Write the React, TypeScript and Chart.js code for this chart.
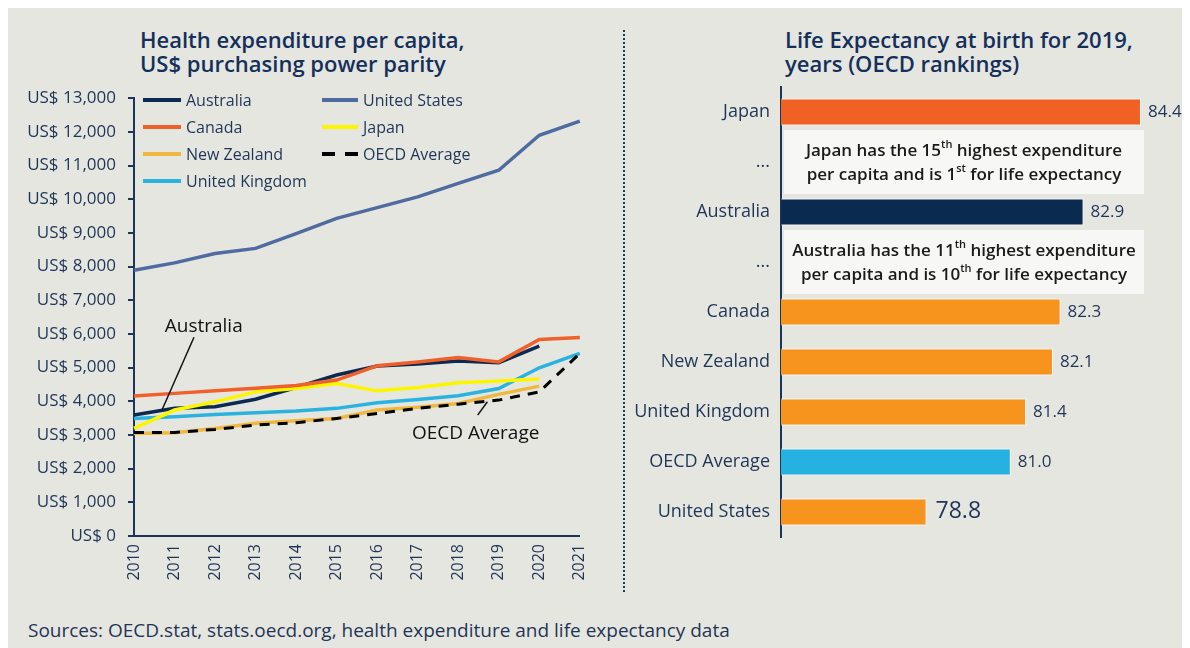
import React, { useEffect, useRef } from "react";
import { Chart, registerables } from "chart.js";
Chart.register(...registerables);

const FONT = "'Open Sans', 'Noto Sans', sans-serif";
const TEXT = "#1f3556";
const BG = "#e6e6e1";

// ---------- Left chart data ----------
const years = ["2010", "2011", "2012", "2013", "2014", "2015", "2016", "2017", "2018", "2019", "2020", "2021"];
const australia = [3590, 3790, 3840, 4060, 4410, 4780, 5045, 5105, 5195, 5145, 5640, null];
const unitedStates = [7890, 8110, 8390, 8540, 8980, 9430, 9750, 10070, 10470, 10860, 11900, 12320];
const canada = [4155, 4235, 4310, 4385, 4470, 4630, 5055, 5170, 5300, 5170, 5835, 5895];
const japan = [3195, 3740, 3985, 4280, 4380, 4530, 4310, 4410, 4550, 4600, 4660, null];
const newZealand = [3045, 3065, 3195, 3345, 3420, 3490, 3740, 3820, 3935, 4205, 4450, null];
const unitedKingdom = [3490, 3540, 3610, 3660, 3710, 3790, 3955, 4055, 4165, 4380, 4995, 5420];
const oecdAverage = [3075, 3075, 3165, 3295, 3365, 3490, 3640, 3790, 3915, 4035, 4280, 5420];

const series = [
  { label: "Australia", data: australia, color: "#0c2a50", dash: [] as number[], order: 3 },
  { label: "United States", data: unitedStates, color: "#4f6b9f", dash: [] as number[], order: 6 },
  { label: "Canada", data: canada, color: "#f0602b", dash: [] as number[], order: 1 },
  { label: "Japan", data: japan, color: "#fbf600", dash: [] as number[], order: 2 },
  { label: "New Zealand", data: newZealand, color: "#efb83e", dash: [] as number[], order: 5 },
  { label: "OECD Average", data: oecdAverage, color: "#000000", dash: [10, 8], order: 0 },
  { label: "United Kingdom", data: unitedKingdom, color: "#2bb3e0", dash: [] as number[], order: 4 },
];

// annotation callouts in data units (x = category index, y = US$)
const lineNotes = [
  { text: "Australia", tx: 1.72, ty: 6220, from: [1.48, 5900], to: [0.69, 3740] },
  { text: "OECD Average", tx: 8.43, ty: 3030, from: [8.48, 3590], to: [8.72, 3985] },
];

// ---------- Right chart data ----------
const leCategories = ["Japan", "...", "Australia", "...", "Canada", "New Zealand", "United Kingdom", "OECD Average", "United States"];
const leValues = [84.4, null, 82.9, null, 82.3, 82.1, 81.4, 81.0, 78.8];
const leRanks = ["(1)", "", "(10)", "", "(14)", "(17)", "(24)", "", "(31)"];
const leColors = ["#f26124", "#000000", "#0b2a4f", "#000000", "#f7941e", "#f7941e", "#f7941e", "#25b2e0", "#f7941e"];
const leRankColors = ["#ffffff", "", "#ffffff", "", "#3a3328", "#3a3328", "#3a3328", "", "#3a3328"];

type Seg = { t: string; sup?: boolean };
const calloutJapan: Seg[][] = [
  [{ t: "Japan has the 15" }, { t: "th", sup: true }, { t: " highest expenditure" }],
  [{ t: "per capita and is 1" }, { t: "st", sup: true }, { t: " for life expectancy" }],
];
const calloutAustralia: Seg[][] = [
  [{ t: "Australia has the 11" }, { t: "th", sup: true }, { t: " highest expenditure" }],
  [{ t: "per capita and is 10" }, { t: "th", sup: true }, { t: " for life expectancy" }],
];
const callouts = [
  { index: 1, lines: calloutJapan },
  { index: 3, lines: calloutAustralia },
];

const notesPlugin = {
  id: "notes",
  afterDatasetsDraw(chart: any) {
    const { ctx, scales } = chart;
    const x = scales.x, y = scales.y;
    ctx.save();
    ctx.font = `19px ${FONT}`;
    ctx.fillStyle = "#111111";
    ctx.strokeStyle = "#111111";
    ctx.lineWidth = 1.5;
    ctx.textAlign = "center";
    ctx.textBaseline = "middle";
    for (const n of lineNotes) {
      ctx.fillText(n.text, x.getPixelForValue(n.tx), y.getPixelForValue(n.ty));
      ctx.beginPath();
      ctx.moveTo(x.getPixelForValue(n.from[0]), y.getPixelForValue(n.from[1]));
      ctx.lineTo(x.getPixelForValue(n.to[0]), y.getPixelForValue(n.to[1]));
      ctx.stroke();
    }
    ctx.restore();
  },
};

const barLabelsPlugin = {
  id: "barLabels",
  afterDatasetsDraw(chart: any) {
    const { ctx, chartArea } = chart;
    const meta = chart.getDatasetMeta(0);
    const yScale = chart.scales.y;
    ctx.save();
    ctx.textBaseline = "middle";
    meta.data.forEach((bar: any, i: number) => {
      const v = leValues[i];
      if (v == null) return;
      if (leRanks[i]) {
        ctx.font = `17px ${FONT}`;
        ctx.fillStyle = leRankColors[i];
        ctx.textAlign = "center";
        ctx.fillText(leRanks[i], (bar.base + bar.x) / 2, bar.y);
      }
      const big = i === leValues.length - 1;
      ctx.font = big ? `23px ${FONT}` : `17px ${FONT}`;
      ctx.fillStyle = TEXT;
      ctx.textAlign = "left";
      ctx.fillText(v.toFixed(1), bar.x + (big ? 9 : 7), bar.y + (big ? -1 : 0));
    });
    // callout boxes
    for (const c of callouts) {
      const cy = yScale.getPixelForValue(c.index);
      const left = chartArea.left + 3;
      const w = 360;
      const h = 64;
      ctx.fillStyle = "#f7f7f5";
      ctx.fillRect(left, cy - h / 2, w, h);
      const cx = left + w / 2;
      c.lines.forEach((line, li) => {
        const ly = cy - 11 + li * 24;
        const mainFont = `600 17px ${FONT}`;
        const supFont = `600 11px ${FONT}`;
        let total = 0;
        for (const s of line) {
          ctx.font = s.sup ? supFont : mainFont;
          total += ctx.measureText(s.t).width;
        }
        let px = cx - total / 2;
        ctx.textAlign = "left";
        ctx.fillStyle = "#1a1a1a";
        for (const s of line) {
          ctx.font = s.sup ? supFont : mainFont;
          ctx.fillText(s.t, px, s.sup ? ly - 6 : ly);
          px += ctx.measureText(s.t).width;
        }
      });
    }
    ctx.restore();
  },
};

function LineChart() {
  const ref = useRef<HTMLCanvasElement>(null);
  useEffect(() => {
    const chart = new Chart(ref.current!, {
      type: "line",
      data: {
        labels: years,
        datasets: series.map((s) => ({
          label: s.label,
          data: s.data,
          borderColor: s.color,
          backgroundColor: s.color,
          borderDash: s.dash,
          borderWidth: s.label === "OECD Average" ? 3 : 3.5,
          pointRadius: 0,
          tension: 0,
          fill: false,
          order: s.order,
        })),
      },
      options: {
        responsive: false,
        animation: false,
        devicePixelRatio: 1,
        layout: { padding: { top: 22, right: 0, left: 0, bottom: 0 } },
        plugins: { legend: { display: false }, tooltip: { enabled: false } },
        scales: {
          x: {
            type: "category",
            offset: false,
            grid: { display: false, drawTicks: false },
            border: { display: true, color: "#1d3557", width: 2 },
            ticks: { minRotation: 90, maxRotation: 90, padding: 8, color: TEXT, font: { family: FONT, size: 16 }, autoSkip: false },
            afterFit: (s: any) => { s.height = 64; },
          },
          y: {
            min: 0,
            max: 13000,
            grid: { display: true, drawOnChartArea: false, drawTicks: true, tickLength: 6, color: "#1d3557", lineWidth: 2 },
            border: { display: true, color: "#1d3557", width: 2 },
            ticks: {
              stepSize: 1000,
              padding: 12,
              color: TEXT,
              font: { family: FONT, size: 17 },
              callback: (v: any) => "US$ " + Number(v).toLocaleString("en-US"),
            },
            afterFit: (s: any) => { s.width = 114; },
          },
        },
      } as any,
      plugins: [notesPlugin],
    });
    return () => chart.destroy();
  }, []);
  return <canvas ref={ref} width={587} height={524} style={{ position: "absolute", left: 12, top: 68, width: 587, height: 524 }} />;
}

function BarChart() {
  const ref = useRef<HTMLCanvasElement>(null);
  useEffect(() => {
    const chart = new Chart(ref.current!, {
      type: "bar",
      data: {
        labels: leCategories,
        datasets: [
          {
            data: leValues,
            backgroundColor: leColors,
            borderColor: "rgba(255,255,255,0.8)",
            borderWidth: 1,
            barPercentage: 0.54,
            categoryPercentage: 1,
          },
        ],
      },
      options: {
        indexAxis: "y",
        responsive: false,
        animation: false,
        devicePixelRatio: 1,
        layout: { padding: { top: 22, right: 26, left: 0, bottom: 23 } },
        plugins: { legend: { display: false }, tooltip: { enabled: false } },
        scales: {
          x: { display: false, min: 75, max: 85 },
          y: {
            grid: { display: false, drawTicks: false },
            border: { display: true, color: "#1d3557", width: 2 },
            ticks: { padding: 11, color: TEXT, font: { family: FONT, size: 18 } },
            afterFit: (s: any) => { s.width = 151; },
          },
        },
      } as any,
      plugins: [barLabelsPlugin],
    });
    return () => chart.destroy();
  }, []);
  return <canvas ref={ref} width={560} height={495} style={{ position: "absolute", left: 622, top: 57, width: 560, height: 495 }} />;
}

function Legend() {
  const cols = [
    { x: 135, lineW: 38, items: ["Australia", "Canada", "New Zealand", "United Kingdom"] },
    { x: 314, lineW: 36, items: ["United States", "Japan", "OECD Average"] },
  ];
  return (
    <>
      {cols.map((c) =>
        c.items.map((name, r) => {
          const s = series.find((q) => q.label === name)!;
          const top = 92 + r * 27 - 11;
          const dashed = s.dash.length > 0;
          return (
            <div key={name} style={{ position: "absolute", left: c.x, top, height: 22, display: "flex", alignItems: "center", whiteSpace: "nowrap" }}>
              {dashed ? (
                <div style={{ width: c.lineW, display: "flex", justifyContent: "space-between" }}>
                  <span style={{ width: 13, height: 4, background: s.color, display: "block" }} />
                  <span style={{ width: 13, height: 4, background: s.color, display: "block" }} />
                </div>
              ) : (
                <span style={{ width: c.lineW, height: 4, background: s.color, display: "block" }} />
              )}
              <span style={{ marginLeft: 5, font: `16px ${FONT}`, color: TEXT }}>{name}</span>
            </div>
          );
        })
      )}
    </>
  );
}

export default function App() {
  const titleStyle: React.CSSProperties = {
    position: "absolute",
    top: 19,
    font: `600 22px/24px ${FONT}`,
    color: "#14305a",
    whiteSpace: "nowrap",
  };
  return (
    <div style={{ position: "relative", width: 1182, height: 640, background: BG, overflow: "hidden", fontFamily: FONT }}>
      <div style={{ ...titleStyle, left: 132 }}>
        Health expenditure per capita,
        <br />
        US$ purchasing power parity
      </div>
      <div style={{ ...titleStyle, left: 777 }}>
        Life Expectancy at birth for 2019,
        <br />
        years (OECD rankings)
      </div>
      <div style={{ position: "absolute", left: 615, top: 22, height: 562, borderLeft: "2px dotted #1f3556" }} />
      <LineChart />
      <Legend />
      <BarChart />
      <div style={{ position: "absolute", left: 20, top: 609, font: `19px ${FONT}`, color: TEXT, whiteSpace: "nowrap" }}>
        Sources: OECD.stat, stats.oecd.org, health expenditure and life expectancy data
      </div>
    </div>
  );
}
